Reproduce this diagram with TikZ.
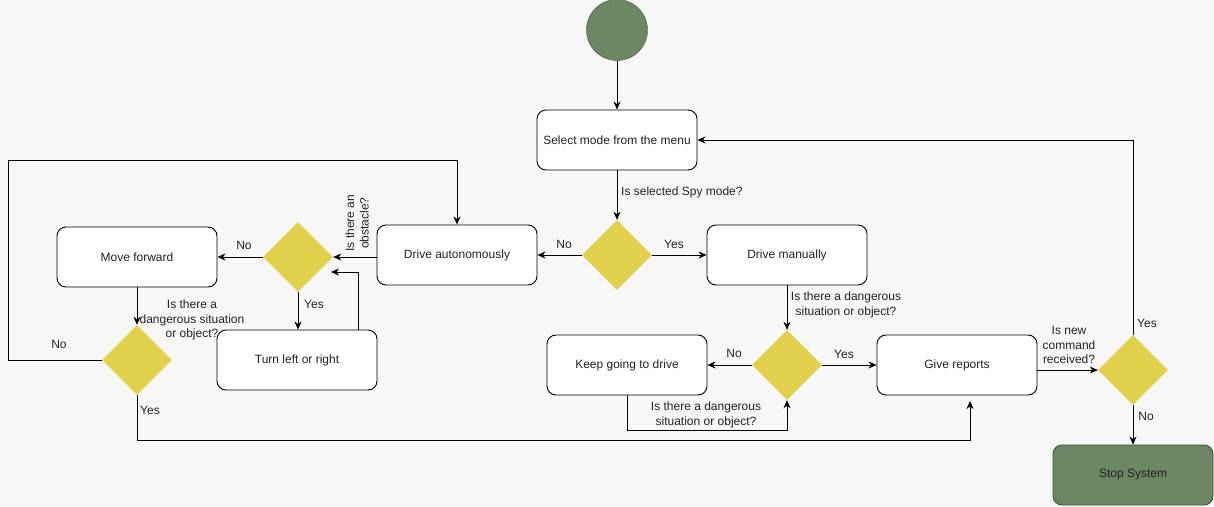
\documentclass[tikz,border=0pt]{standalone}
\usepackage{fontspec}
\setmainfont{Liberation Sans}
\usetikzlibrary{arrows.meta,positioning,shapes.geometric,calc}

\definecolor{bgcol}{HTML}{F7F7F7}
\definecolor{greenfill}{HTML}{6D8764}
\definecolor{greenline}{HTML}{3A5431}
\definecolor{yellowfill}{HTML}{E0D04C}
\definecolor{textcol}{HTML}{222222}

\tikzset{
  box/.style={draw, line width=0.9pt, rounded corners=9pt, fill=white,
    minimum width=160pt, minimum height=60pt, inner sep=0pt,
    text=textcol, font=\fontsize{12}{14.5}\selectfont},
  stopbox/.style={box, fill=greenfill, draw=greenline},
  decision/.style={diamond, aspect=1, fill=yellowfill,
    minimum width=70pt, minimum height=70pt, inner sep=0pt},
  startnode/.style={circle, fill=greenfill, draw=greenline,
    minimum size=61pt, inner sep=0pt},
  lbl/.style={text=textcol, font=\fontsize{12}{14.5}\selectfont,
    align=center, inner sep=0pt},
  flow/.style={-{Stealth[length=8pt,width=7pt,inset=2.5pt]}, line width=0.9pt},
}

\begin{document}
\begin{tikzpicture}[x=1pt,y=-1pt]
\useasboundingbox (0,0) rectangle (1214,506);
\fill[bgcol] (0,0) rectangle (1214,506);

% nodes
\node[startnode] (start) at (617,30) {};
\node[box] (select) at (617,140) {Select mode from the menu};
\node[decision] (spy) at (617,255) {};
\node[box] (manual) at (787,255) {Drive manually};
\node[box] (auto) at (457,255) {Drive autonomously};
\node[decision] (obst) at (298,257) {};
\node[box] (forward) at (137,257) {Move forward};
\node[box] (turn) at (297,360) {Turn left or right};
\node[decision] (danger) at (137,360) {};
\node[decision] (manudanger) at (787,365) {};
\node[box] (keep) at (627,365) {Keep going to drive};
\node[box] (report) at (957,365) {Give reports};
\node[decision] (newcmd) at (1133,370) {};
\node[stopbox] (stop) at (1133,475) {Stop System};

\coordinate (turnup) at (358,272);
\coordinate (turnback) at (331,272);
\coordinate (loopcorner) at (8,160);
\coordinate (reportin) at (970,401);

% top part
\draw[flow] (start) -- (select);
\draw[flow] (select) -- (spy);
\node[lbl, anchor=west] (spyq) at (621,192) {Is selected Spy mode?};
\draw[flow] (spy) -- (auto);
\node[lbl] (spyno) at (564,244) {No};
\draw[flow] (spy) -- (manual);
\node[lbl] (spyyes) at (674,244) {Yes};

% autonomous branch
\draw[flow] (auto.west |- obst.east) -- (obst.east);
\node[lbl, rotate=90] (obstq) at (357,223) {Is there an\\obstacle?};
\draw[flow] (obst) -- (forward);
\node[lbl] (obstno) at (244,245) {No};
\draw[flow] (obst.south) -- (obst.south |- turn.north);
\node[lbl] (obstyes) at (314,304) {Yes};
\draw[flow] (turn.north -| turnup) -- (turnup) -- (turnback);
\draw[flow] (forward) -- (danger);
\node[lbl] (dangerq) at (192,320) {Is there a\\dangerous situation\\or object?};
\draw[flow] (danger.west) -| (loopcorner) -| (auto.north);
\node[lbl] (dangerno) at (59,344) {No};
\draw[flow] (danger.south) -- ++(0,45) -| (reportin);
\node[lbl] (dangeryes) at (150,410) {Yes};

% manual branch
\draw[flow] (manual) -- (manudanger);
\node[lbl] (manuq) at (846,305) {Is there a dangerous\\situation or object?};
\draw[flow] (manudanger) -- (keep);
\node[lbl] (manuno) at (734,353) {No};
\draw[flow] (manudanger) -- (report);
\node[lbl] (manuyes) at (844,354) {Yes};
\draw[flow] (keep.south) -- ++(0,35) -| (manudanger.south);
\node[lbl] (keepq) at (706,415) {Is there a dangerous\\situation or object?};

% end part
\draw[flow] (newcmd.west -| report.east) -- (newcmd.west);
\node[lbl] (cmdq) at (1069,345) {Is new\\command\\received?};
\draw[flow] (newcmd.north) |- (select.east);
\node[lbl] (cmdyes) at (1147,323) {Yes};
\draw[flow] (newcmd) -- (stop);
\node[lbl] (cmdno) at (1146,416) {No};
\end{tikzpicture}
\end{document}
